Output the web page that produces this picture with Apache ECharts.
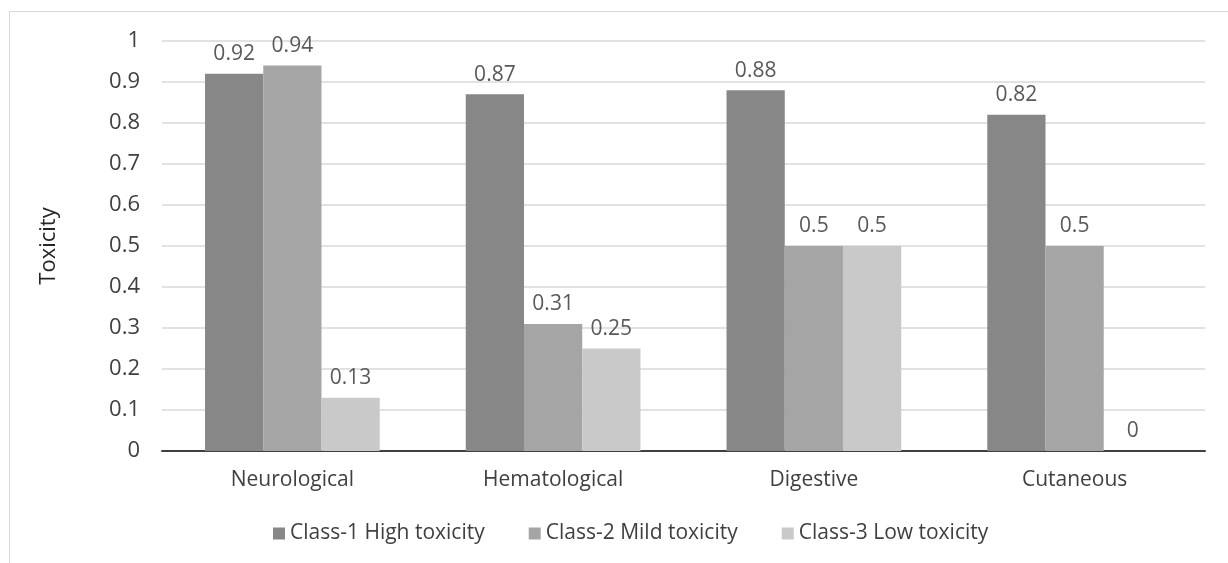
<!DOCTYPE html>
<html><head><meta charset="utf-8">
<script src="https://cdn.jsdelivr.net/npm/echarts@6/dist/echarts.min.js"></script>
<style>
html,body{margin:0;padding:0;background:#fff;}
#frame{position:absolute;left:9px;top:11px;width:1240px;height:560px;border:1px solid #d9d9d9;box-sizing:border-box;}
#c{position:absolute;left:0;top:0;width:1228px;height:563px;}
</style></head>
<body><div id="frame"></div><div id="c"></div>
<script>
const categories = ['Neurological','Hematological','Digestive','Cutaneous'];
const seriesNames = ['Class-1 High toxicity','Class-2 Mild toxicity','Class-3 Low toxicity'];
const class1 = [0.92, 0.87, 0.88, 0.82];
const class2 = [0.94, 0.31, 0.5, 0.5];
const class3 = [0.13, 0.25, 0.5, 0];
const colors = ['#878787','#a5a5a5','#c9c9c9'];
const FONT = '"Open Sans", "Noto Sans", sans-serif';
const chart = echarts.init(document.getElementById('c'));
const data = [class1, class2, class3];
chart.setOption({
  animation:false,
  textStyle:{fontFamily:FONT},
  grid:{left:162,right:23,top:41,bottom:112},
  legend:{bottom:14,left:268,itemWidth:12,itemHeight:12,itemGap:44,icon:'rect',
    textStyle:{fontFamily:FONT,fontSize:21,color:'#404040'},data:seriesNames},
  xAxis:{type:'category',data:categories,
    axisLine:{lineStyle:{color:'#404040',width:2}},axisTick:{show:false},
    axisLabel:{fontFamily:FONT,fontSize:21,color:'#404040',margin:19}},
  yAxis:{type:'value',min:0,max:1,interval:0.1,name:'Toxicity',nameLocation:'middle',nameGap:102,
    nameTextStyle:{fontFamily:FONT,fontSize:22,color:'#262626'},
    axisLine:{show:false},axisTick:{show:false},
    splitLine:{lineStyle:{color:'#d9d9d9',width:1.5}},
    axisLabel:{fontFamily:FONT,fontSize:22,color:'#404040',margin:22,formatter:v=>String(Math.round(v*10)/10)}},
  series:data.map((d,i)=>({
    name:seriesNames[i],type:'bar',data:d,barGap:'0%',barCategoryGap:'33%',
    itemStyle:{color:colors[i]},
    label:{show:true,position:'top',distance:9,fontFamily:FONT,fontSize:21,color:'#595959'}
  }))
});
</script></body></html>
